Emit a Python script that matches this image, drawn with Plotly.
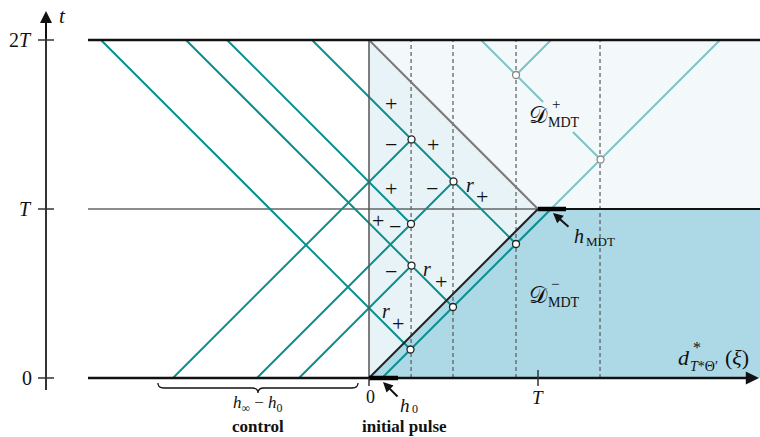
import plotly.graph_objects as go

# ---------------- data (units of T) ----------------
time_ticks = [0, 1, 2]
time_tick_labels = ["0", "<i>T</i>", "2<i>T</i>"]
h0 = 0.077                      # initial pulse front: x - t = h0
h0_bar = 0.172                  # thick segment on t = 0
hmdt_bar = 0.166                # thick segment on t = T
x_max = 2.3136
control_starts = [-1.16, -0.663, -0.414]      # forward characteristics x - t = a
control_stop_on = [1.663, 1.663, 0.917]       # backward line (x + t = b) where each stops
backward_sums = [0.414, 0.917, 1.16, 1.663]   # backward characteristics x + t = b
backward_stop_on = [h0, h0, -0.663, h0]       # forward line (x - t = a) where each stops
upper_sum = 2.663
upper_diff = -0.923
label_gap = [1.03, 1.207]
probe_x = [0.249, 0.497, 0.870, 1.367]
dark_nodes = [(h0, 0.414), (h0, 0.917), (h0, 1.663), (-0.414, 0.917),
              (-0.663, 1.16), (-0.663, 1.663), (-1.16, 1.663)]
light_nodes = [(upper_diff, upper_sum), (h0, upper_sum)]
brace_span = [-1.249, -0.065]

TEAL = "#0a8f8f"
LTEAL = "#7cc3c5"
SERIF = "Liberation Serif, DejaVu Serif, serif"


def meet(a, b):
    return (a + b) / 2.0, (b - a) / 2.0


def X(px):
    return (px - 369) / 169.0


def Y(py):
    return (378 - py) / 169.0


fig = go.Figure()
shapes = []
# regions
shapes.append(dict(type="rect", x0=0, x1=x_max, y0=0, y1=2, fillcolor="#f3f8fb",
                   line=dict(width=0), layer="below"))
shapes.append(dict(type="path", path="M 0,0 L 1,1 L 0,2 Z", fillcolor="#e7f3f6",
                   line=dict(width=0), layer="below"))
shapes.append(dict(type="path", path=f"M 0,0 L 1,1 L {x_max},1 L {x_max},0 Z",
                   fillcolor="#add8e6", line=dict(width=0), layer="below"))


def seg(x0, y0, x1, y1, color, width, dash=None):
    fig.add_trace(go.Scatter(x=[x0, x1], y=[y0, y1], mode="lines",
                             line=dict(color=color, width=width, dash=dash),
                             hoverinfo="skip", showlegend=False))


# dashed probes
for xp in probe_x:
    seg(xp, 0, xp, 2, "#5a5a5a", 1.2, "4px,3px")

# horizontal lines
seg(X(88), 1, 1, 1, "#666666", 1.5)
seg(1, 1, x_max, 1, "#111111", 2.2)

# light characteristics
xa, ya = meet(h0, upper_sum)
xb, yb = meet(upper_diff, upper_sum)
seg(upper_sum - 2, 2, label_gap[0], upper_sum - label_gap[0], LTEAL, 2)
seg(label_gap[1], upper_sum - label_gap[1], xa, ya, LTEAL, 2)
seg(xb, yb, upper_diff + 2, 2, LTEAL, 2)
seg(1 + h0, 1, 2 + h0, 2, LTEAL, 2)

# dark characteristics
for a, b in zip(control_starts, control_stop_on):
    xe, ye = meet(a, b)
    seg(a, 0, xe, ye, TEAL, 2)
for b, a in zip(backward_sums, backward_stop_on):
    xe, ye = meet(a, b)
    seg(b - 2, 2, xe, ye, TEAL, 2)
seg(h0, 0, 1 + h0, 1, TEAL, 2)

# boundary lines
seg(0, 0, 0, 2, "#555555", 1.5)
seg(0, 2, 1, 1, "#7a7a7a", 2)
seg(0, 0, 1, 1, "#222222", 2)
seg(X(88), 2, x_max, 2, "#111111", 2.5)
seg(X(88), 0, X(752), 0, "#111111", 2.5)
seg(0, 0, h0_bar, 0, "#000000", 4.5)
seg(1, 1, 1 + hmdt_bar, 1, "#000000", 4.5)

# left time axis + ticks
seg(X(46), Y(390), X(46), Y(20), "#333333", 2)
for t in time_ticks:
    seg(X(38), t, X(54), t, "#333333", 1.5)
seg(1, Y(370), 1, Y(386), "#333333", 1.5)
seg(0, 0, 0, Y(386), "#333333", 1.5)

# nodes
nx, ny = zip(*[meet(a, b) for a, b in dark_nodes])
fig.add_trace(go.Scatter(x=nx, y=ny, mode="markers",
                         marker=dict(size=7, color="white", line=dict(color="#222", width=1.3)),
                         hoverinfo="skip", showlegend=False))
lx, ly = zip(*[meet(a, b) for a, b in light_nodes])
fig.add_trace(go.Scatter(x=lx, y=ly, mode="markers",
                         marker=dict(size=7, color="white", line=dict(color="#888", width=1.3)),
                         hoverinfo="skip", showlegend=False))

# brace
x0, x1 = brace_span
xm = (x0 + x1) / 2
yt, ymid, ytip, r = Y(383), Y(388), Y(393), 0.035
path = (f"M {x0},{yt} Q {x0},{ymid} {x0 + r},{ymid} L {xm - r},{ymid} "
        f"Q {xm},{ymid} {xm},{ytip} Q {xm},{ymid} {xm + r},{ymid} "
        f"L {x1 - r},{ymid} Q {x1},{ymid} {x1},{yt}")
shapes.append(dict(type="path", path=path, line=dict(color="#111", width=1.3)))

ann = []


def txt(px, py, s, size=18, xanchor="center", color="#111"):
    ann.append(dict(x=X(px), y=Y(py), text=s, showarrow=False, xanchor=xanchor,
                    yanchor="middle", font=dict(family=SERIF, size=size, color=color)))


def arrow(hx, hy, tx, ty, size=1.0, width=2):
    ann.append(dict(x=X(hx), y=Y(hy), ax=X(tx), ay=Y(ty), axref="x", ayref="y",
                    xref="x", yref="y", text="", showarrow=True, arrowhead=2,
                    arrowsize=size, arrowwidth=width, arrowcolor="#111",
                    font=dict(size=10)))


arrow(46, 11, 46, 40, 1.2, 2)
arrow(759, 378, 720, 378, 1.2, 2.2)
arrow(383, 382, 399, 398, 1.0, 2)
arrow(553, 213, 570, 228, 1.0, 2)

# axis labels
txt(62, 16, "<i>t</i>", 21)
for t, lab in zip(time_ticks, time_tick_labels):
    txt(34, 378 - 169 * t, lab, 20, "right")
txt(370, 397, "0", 18)
txt(538, 397, "<i>T</i>", 19)
txt(676, 357, "<i>d</i>", 22, "left")
txt(691, 347, "*", 16, "left")
txt(688, 366, "<i>T</i>*Θ′", 14, "left")
txt(723, 357, "(<i>ξ</i>)", 22, "left")

# region labels
txt(527, 115, "𝒟", 23, "left")
txt(546, 122, "MDT", 14, "left")
txt(550, 104, "+", 15, "left")
txt(527, 295, "𝒟", 23, "left")
txt(546, 302, "MDT", 14, "left")
txt(549, 284, "−", 15, "left")
txt(572, 236, "<i>h</i>", 20, "left")
txt(584, 241, "MDT", 13, "left")
txt(398, 405, "<i>h</i>", 19, "left")
txt(410, 409, "0", 12, "left")
txt(258, 404, "<i>h</i><sub>∞</sub> − <i>h</i><sub>0</sub>", 17)
txt(258, 426, "<b>control</b>", 17)
txt(404, 426, "<b>initial pulse</b>", 17)

# signs
for px, py, s in [(391, 103, "+"), (391, 144, "−"), (433, 144, "+"), (391, 188, "+"),
                  (432, 188, "−"), (378, 220, "+"), (395, 226, "−"), (391, 271, "−"),
                  (482, 196, "+"), (441, 281, "+"), (398, 323, "+")]:
    txt(px, py, s, 22)
for px, py in [(470, 185), (427, 269), (386, 311)]:
    txt(px, py, "<i>r</i>", 20)

fig.update_layout(
    width=760, height=437, margin=dict(l=0, r=0, t=0, b=0),
    plot_bgcolor="white", paper_bgcolor="white", showlegend=False,
    xaxis=dict(range=[X(0), X(760)], visible=False, fixedrange=True),
    yaxis=dict(range=[Y(437), Y(0)], visible=False, fixedrange=True),
    shapes=shapes, annotations=ann,
)
fig.write_html("out.html", config={"displayModeBar": False},
               post_script="document.body.style.margin='0px';document.body.style.overflow='hidden';")
